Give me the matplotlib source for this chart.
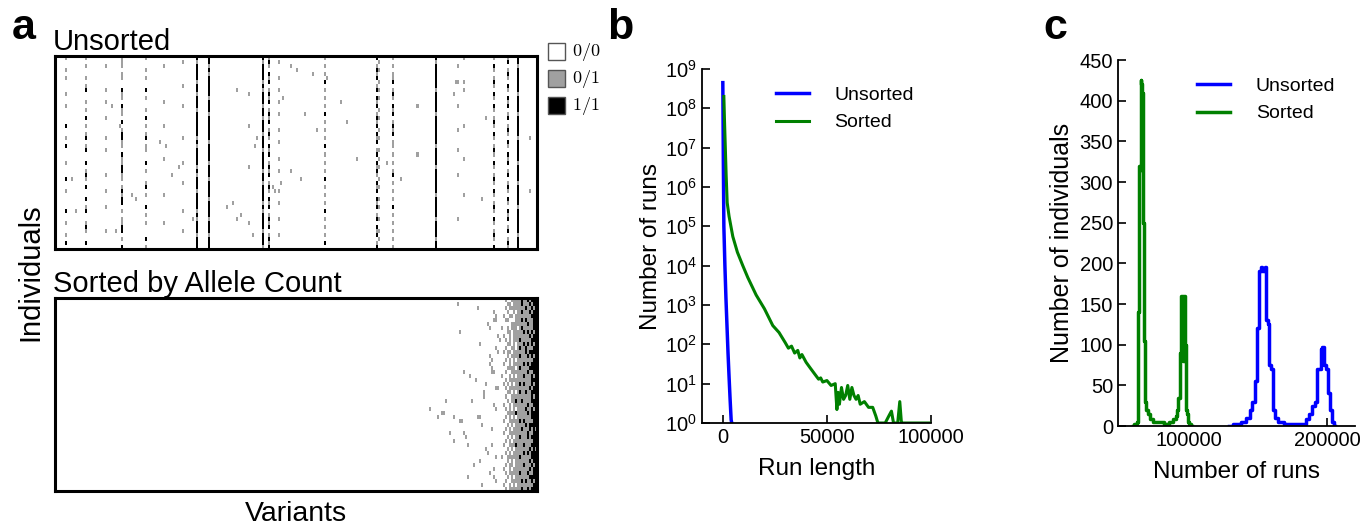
import numpy as np
import matplotlib
matplotlib.use("Agg")
import matplotlib.pyplot as plt
from matplotlib.colors import ListedColormap
from matplotlib.patches import Rectangle

plt.rcParams['font.family'] = ['Liberation Sans', 'DejaVu Sans']

# ---- panel a : genotype matrices (rows = individuals, cols = variants) ----
n_rows = 48
n_cols = 240
geno_code = {'.': 0, '+': 1, '#': 2}

# unsorted: strongly visible variant columns, one string per column (top -> bottom)
unsorted_cols = [5, 15, 25, 33, 45, 54, 63, 70, 76, 96, 103, 106, 111, 134,
                 160, 161, 168, 189, 200, 203, 218, 225, 230]
unsorted_patterns = [
    "+..+.+...+..+....#..+.#...+...#..+....#..+..+.#.",
    "+.+..+.+#..+.+.#.+.+#.+#..#.+#+.#..#.+#..+#+..#.",
    "..+.....+..+...+....+..+.....+...+...+.....+....",
    "+++.++..#++.#++.#.+##++.#++##++.+#+##.+.++##.+.#",
    "+..+.+..#.+..+.#.+.+#.++..#.+..+#.+..#.+.+...#.+",
    "..+........+.....+.......+........+......+......",
    ".+.....+....+.......+.....+....+......+....+....",
    "#+####+##+###+######+#+####+#+###+####+#+###+###",
    "##+#+#####+###+######+####+###+####+####+###+###",
    ".........+.......+.........+.............+......",
    "#+####+#+###+##+###+###+####+##+####+#+####+###+",
    "+#+.#+#.+#+#.+#+#.+#+.#+#.+#+#.+#+.#+#.+#+#.+#+#",
    ".+...+..+..+..+...+..+...+..+....+..+...+...+...",
    "+.+.+.#.+.+.+.#.+.+.+.#.+.+.+.#.+.+.+.#.+.+.+.#.",
    "#.+#+#.+#.#+#.+#+#.#+#.+#.#+#+.#+#.#+#.+#.#+#.+#",
    ".+.+..+.+.+..+.+..+.+..+.+.+..+.+..+.+..+..+.+..",
    "+.+.++#.+#+.#+#.+#+#.++.+.+.+#.+.+.+.#.+.+.+.+.+",
    "#+######+#####+#######+####+######+#####+####+##",
    "..+...+.....+.....+....+.....+..........+.......",
    "+.....+.+........+.......+........+.............",
    "+.#+.+#+.#+.#+.+#+.#+.+#+.#+.+#+.#+.+#+.#+.+#+.#",
    "+#.+#+.#+.#+#.+#.+#+.#+.#+#.+#.+#+.#+.#+#.+#.+#+",
    "##+######+####+#####+#####+####+#####+######+###",
]
unsorted_dots = [
    (3, 120, '+'), (2, 117, '+'), (8, 90, '+'), (10, 113, '+'), (14, 124, '+'),
    (16, 145, '+'), (20, 100, '+'), (22, 99, '+'), (18, 130, '+'), (25, 150, '+'),
    (28, 117, '+'), (30, 122, '+'), (31, 112, '+'), (36, 88, '+'), (37, 85, '+'),
    (40, 90, '+'), (44, 98, '+'), (12, 180, '+'), (9, 198, '+'), (6, 199, '+'),
    (15, 214, '+'), (20, 236, '+'), (33, 236, '+'), (35, 212, '+'), (26, 165, '+'),
    (24, 180, '+'), (30, 172, '+'), (11, 142, '+'), (4, 128, '+'), (35, 40, '+'),
    (34, 38, '+'), (29, 58, '+'), (21, 52, '+'), (22, 55, '+'), (40, 68, '+'),
    (43, 30, '+'), (12, 28, '+'), (17, 32, '+'), (38, 10, '+'), (30, 8, '+'),
    (32, 108, '+'), (33, 109, '+'), (27, 61, '+'), (5, 135, '+'), (39, 92, '+'),
]

# sorted by allele count: dense block at the right (cols 222..239), one string per row
sorted_first_col = 222
sorted_rows = [
    "..+..+++++#++#+###", "...++.++++#+++#+##", "..+.++++++++#++#+#", "...+..+.++#+++#+##",
    ".+..++.++++++++###", "..++...+++#+#+++##", ".....++++++++#++##", "+..+.+++.+#+++++##",
    "...++.+++++#+#+#+#", ".+..+.++++++++#+##", "..+.+.+++#+++++###", "...++.+.+++#+#+#+#",
    "..+..++.+#++#+++##", ".+.++.++++++#+####", "...+.++++#+++#+#+#", "..+.+.+.++++++++##",
    ".+..+.+++++#+#+###", "...++++.+#++++####", "..+..++++++++#++##", "+...+.+.+++#+++#+#",
    "..+.+++++++++++###", ".+.+.+.++#+#+++#+#", "..+.++++++++++#+##", "...++.+.+#++#++###",
    "..+..++++++++++#+#", "...+.++#++#++++###", ".+..+.+++++++#++##", "..+.+.+.++++#++#+#",
    "...++++#+++++#+###", "..+.+.+.+++++++###", ".+..+++++#+#++++##", "...+.+.+++++#+####",
    "..+.+.++++#+++#+#+", ".+..+++++++++#++##", "...+.+.++#+++#+###", "..+.+.++++++++++##",
    ".+..+++#+++#+++###", "...+.+.+++++++#+#+", "..+.+.+++++#+#+###", "+..++++++#+++++###",
    "...+.+.+++++++#+##", "..+.++.++++#+++#+#", ".+..+.++++++++#+##", "..+.+++++#+++#++##",
    "...+.+.+++++++####", "..+..+++++#+#++#+#", ".+..+.+.++++++++##", "..+.++++++#++#+###",
]
sorted_dots = [
    (1, 200, '+'), (2, 210, '+'), (3, 218, '+'), (4, 219, '+'), (6, 215, '+'),
    (7, 216, '+'), (8, 201, '+'), (9, 220, '+'), (10, 221, '+'), (11, 211, '+'),
    (12, 219, '+'), (13, 220, '+'), (14, 216, '+'), (15, 217, '+'), (16, 216, '+'),
    (17, 217, '+'), (18, 203, '+'), (19, 206, '+'), (20, 209, '+'), (21, 214, '+'),
    (22, 219, '+'), (22, 220, '+'), (23, 213, '+'), (24, 213, '+'), (25, 207, '+'),
    (26, 218, '+'), (27, 219, '+'), (28, 192, '+'), (28, 193, '+'), (29, 198, '+'),
    (30, 201, '+'), (30, 202, '+'), (31, 212, '+'), (32, 217, '+'), (33, 203, '+'),
    (34, 204, '+'), (35, 198, '+'), (36, 205, '+'), (37, 214, '+'), (38, 215, '+'),
    (39, 219, '+'), (40, 211, '+'), (41, 208, '+'), (42, 218, '+'), (43, 216, '+'),
    (44, 205, '+'), (45, 219, '+'), (46, 212, '+'), (27, 186, '+'), (29, 190, '+'),
    (25, 194, '+'), (33, 196, '+'), (5, 218, '+'), (5, 219, '+'), (18, 217, '+'),
    (18, 218, '+'), (29, 210, '+'), (29, 211, '+'), (36, 217, '+'), (44, 218, '+'),
]

# ---- panel b : run length distribution ----
b_unsorted_len = [0, 250, 500, 1000, 1500, 2000, 2500, 3000, 3500, 4000, 4300]
b_unsorted_cnt = [4.5e8, 5e6, 1e5, 1e4, 1.5e3, 3e2, 60, 15, 4, 1.2, 1]
b_sorted_len = [500, 800, 1200, 1600, 2100, 3000, 4800, 7000, 9600, 12000, 16000,
                20000, 24000, 27000, 30000, 31500, 33000, 34500, 36000, 37000,
                38000, 40000, 42000, 44000, 46000, 47000, 48000, 50000, 52000,
                54000, 54800, 55400, 56000, 57000, 58000, 59000, 60000, 61000,
                62000, 63000, 64000, 65000, 66000, 68000, 70000, 72000, 73500,
                74500, 75500, 78000, 80000, 81000, 82000, 83000, 84000, 85000,
                85800, 86500, 88000, 100000]
b_sorted_cnt = [2e8, 5e7, 1e7, 2e6, 4e5, 1.8e5, 5.5e4, 2.2e4, 1e4, 5e3, 1.8e3,
                8e2, 3e2, 2e2, 1.1e2, 80, 90, 60, 70, 45, 55, 35, 25, 18, 13, 14,
                11, 12, 9, 10, 2.2, 6, 3, 8, 4, 5, 9, 4, 8, 5, 4, 5, 3, 3.5, 2.5,
                2.5, 1.5, 1, 1, 1, 1.6, 2, 1, 1, 1, 3.5, 1, 1, 1, 1]

# ---- panel c : runs per individual ----
c_sorted_runs = [60000, 61000, 62000, 63000, 63500, 64000, 64500, 65000, 65500,
                 66000, 66500, 67000, 67500, 68000, 68500, 69000, 70000, 71000,
                 73000, 76000, 80000, 84000, 88000, 90000, 91000, 92000, 93000,
                 94000, 95000, 96000, 96500, 97000, 97500, 98000, 98500, 99000,
                 100000, 101000, 102500]
c_sorted_ind = [0, 2, 3, 5, 50, 140, 320, 315, 425, 420, 410, 290, 250, 105,
                100, 30, 20, 15, 8, 5, 5, 3, 5, 8, 12, 20, 35, 90, 160, 160, 80,
                160, 100, 30, 20, 15, 5, 2, 0]
c_unsorted_runs = [129000, 135000, 140000, 143000, 145000, 147000, 148500, 150000,
                   151500, 152500, 154000, 155500, 156500, 157500, 158500, 160000,
                   161500, 163000, 166000, 172000, 178000, 184000, 186000, 188000,
                   190000, 192000, 193500, 195000, 196000, 197000, 198000, 199500,
                   201000, 202500, 204000, 205500]
c_unsorted_ind = [0, 2, 5, 10, 20, 30, 55, 120, 190, 195, 190, 195, 130, 125, 75,
                  70, 20, 10, 5, 3, 3, 3, 8, 15, 25, 30, 70, 70, 95, 97, 75, 70,
                  40, 20, 5, 0]

W, H = 1372, 529
fig = plt.figure(figsize=(W / 100, H / 100), dpi=100)
cmap = ListedColormap(['white', '#a0a0a0', 'black'])


def box(x0, y0, x1, y1):
    return [x0 / W, 1 - y1 / H, (x1 - x0) / W, (y1 - y0) / H]


# build matrices
unsorted = np.zeros((n_rows, n_cols), dtype=int)
for c, pat in zip(unsorted_cols, unsorted_patterns):
    pat = pat.ljust(n_rows, '.')[:n_rows]
    unsorted[:, c] = [geno_code[ch] for ch in pat]
for r, c, g in unsorted_dots:
    unsorted[r, c] = geno_code[g]

sorted_m = np.zeros((n_rows, n_cols), dtype=int)
for r, row in enumerate(sorted_rows):
    for j, ch in enumerate(row):
        sorted_m[r, sorted_first_col + j] = geno_code[ch]
for r, c, g in sorted_dots:
    sorted_m[r, c] = geno_code[g]

ax_u = fig.add_axes(box(55, 56, 537, 249))
ax_s = fig.add_axes(box(55, 298, 537, 491))
for ax, m, title in [(ax_u, unsorted, 'Unsorted'), (ax_s, sorted_m, 'Sorted by Allele Count')]:
    ax.imshow(m, cmap=cmap, vmin=0, vmax=2, aspect='auto', interpolation='nearest')
    ax.set_xticks([])
    ax.set_yticks([])
    for s in ax.spines.values():
        s.set_linewidth(2.2)
    ax.set_title(title, fontsize=21, loc='left', pad=4, x=-0.004)

fig.text(30 / W, 1 - 272 / H, 'Individuals', rotation=90, fontsize=21,
         ha='center', va='center')
fig.text(296 / W, 1 - 514 / H, 'Variants', fontsize=20.5, ha='center', va='center')

# genotype legend
for i, (col, lab) in enumerate([('white', '0/0'), ('#a0a0a0', '0/1'), ('black', '1/1')]):
    y0 = 43 + i * 27
    fig.patches.append(Rectangle((548 / W, 1 - (y0 + 17) / H), 17 / W, 17 / H,
                                 facecolor=col, edgecolor='#555555', lw=1,
                                 transform=fig.transFigure))
    fig.text(572 / W, 1 - (y0 + 9) / H, '$' + lab + '$', fontsize=13,
             math_fontfamily='cm', va='center', ha='left')

# panel letters
fig.text(12 / W, 1 - 28 / H, 'a', fontsize=31, fontweight='bold', va='center')
fig.text(607 / W, 1 - 28 / H, 'b', fontsize=31, fontweight='bold', va='center')
fig.text(1043 / W, 1 - 28 / H, 'c', fontsize=31, fontweight='bold', va='center')

# ---- panel b ----
ax_b = fig.add_axes(box(702, 69, 931, 423))
ax_b.plot(b_unsorted_len, b_unsorted_cnt, color='#0000ff', lw=2.5, label='Unsorted')
ax_b.plot(b_sorted_len, b_sorted_cnt, color='#008000', lw=2.2, label='Sorted')
ax_b.set_yscale('log')
ax_b.set_ylim(1, 1e9)
ax_b.set_xlim(-10000, 100000)
ax_b.set_xticks([0, 50000, 100000])
ax_b.set_yticks([10.0 ** k for k in range(10)])
ax_b.set_xlabel('Run length', fontsize=17.5, labelpad=8)
ax_b.set_ylabel('Number of runs', fontsize=17.5, labelpad=2)
ax_b.legend(loc='upper right', bbox_to_anchor=(1.0, 1.0), frameon=False,
            fontsize=14, handlelength=1.7, handletextpad=1.3, labelspacing=0.5)

# ---- panel c ----
ax_c = fig.add_axes(box(1118, 60, 1355, 426))
ax_c.plot(c_sorted_runs, c_sorted_ind, color='#008000', lw=2.5, drawstyle='steps-mid', label='Sorted')
ax_c.plot(c_unsorted_runs, c_unsorted_ind, color='#0000ff', lw=2.5, drawstyle='steps-mid', label='Unsorted')
ax_c.set_xlim(49000, 220000)
ax_c.set_ylim(0, 450)
ax_c.set_xticks([100000, 200000])
ax_c.set_yticks(range(0, 451, 50))
ax_c.set_xlabel('Number of runs', fontsize=17.5, labelpad=8)
ax_c.set_ylabel('Number of individuals', fontsize=18, labelpad=4)
h, l = ax_c.get_legend_handles_labels()
ax_c.legend(h[::-1], l[::-1], loc='upper right', bbox_to_anchor=(0.99, 1.0), frameon=False,
            fontsize=14, handlelength=1.7, handletextpad=1.3, labelspacing=0.5)

for ax in (ax_b, ax_c):
    ax.spines['top'].set_visible(False)
    ax.spines['right'].set_visible(False)
    ax.spines['left'].set_linewidth(1.3)
    ax.spines['bottom'].set_linewidth(1.3)
    ax.tick_params(direction='in', labelsize=14.5, length=6, width=1.2)
    ax.tick_params(which='minor', direction='in', length=3, width=0.8)

fig.savefig('out.png', dpi=100)
